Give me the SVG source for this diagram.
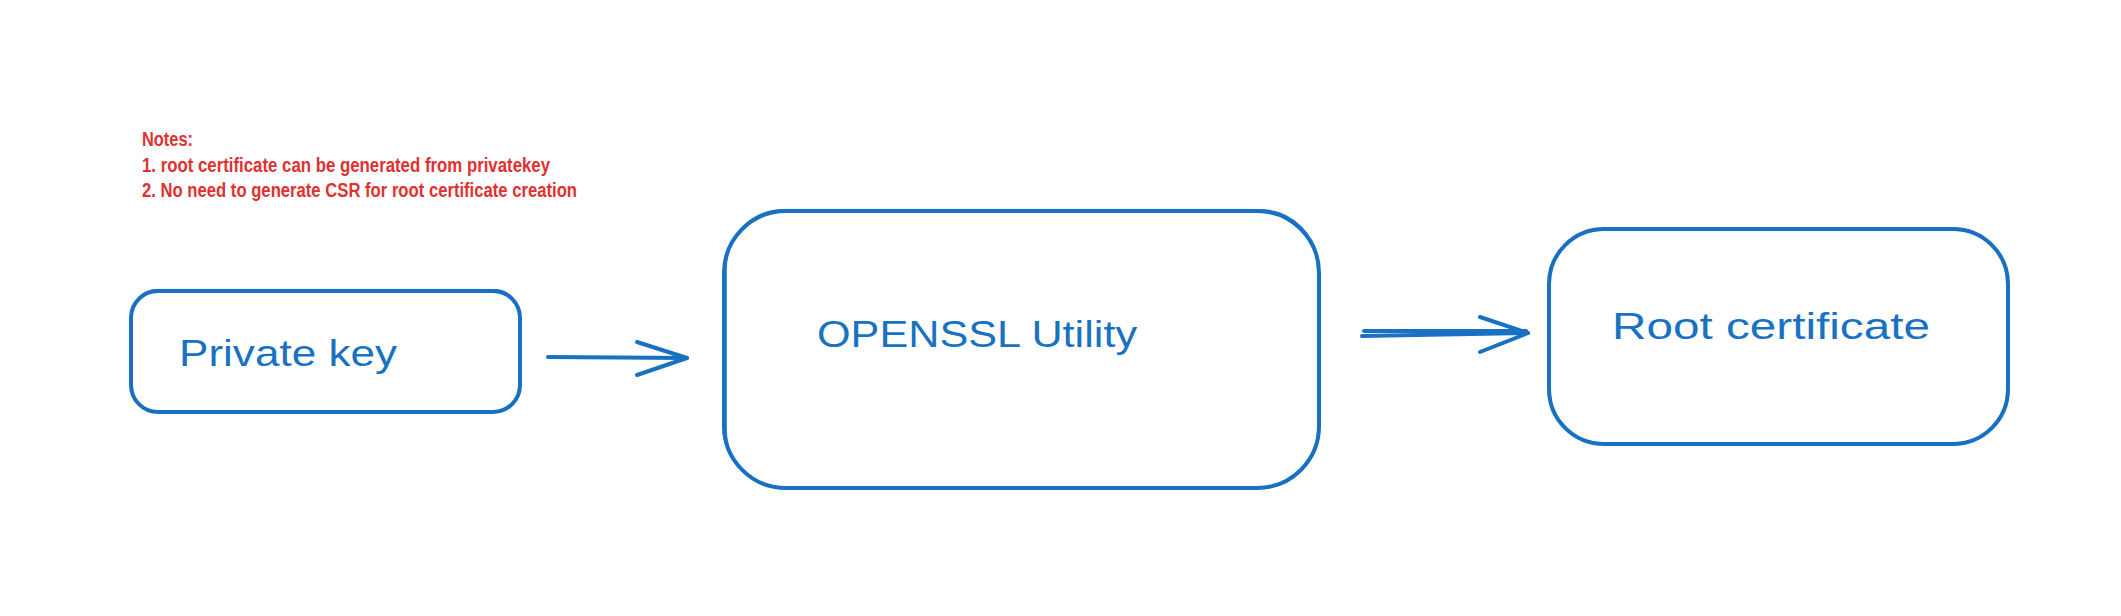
<svg xmlns="http://www.w3.org/2000/svg" width="2121" height="616" viewBox="0 0 2121 616">
  <style>
    .box { fill: none; stroke: #1971c2; stroke-width: 4; stroke-linejoin: round; }
    .box2 { fill: none; stroke: #1971c2; stroke-width: 2; opacity: 0.8; }
    .lbl { font-family: "Liberation Sans", "DejaVu Sans", sans-serif; font-size: 36px; fill: #1971c2; }
    .note { font-family: "Liberation Sans", "DejaVu Sans", sans-serif; font-size: 20px; font-weight: bold; fill: #e03131; }
    .conn { fill: none; stroke: #1971c2; stroke-width: 4; stroke-linecap: round; stroke-linejoin: round; }
  </style>
  <rect width="2121" height="616" fill="#ffffff"/>

  <g id="notes">
    <text class="note" x="142" y="146" textLength="51" lengthAdjust="spacingAndGlyphs">Notes:</text>
    <text class="note" x="142" y="172" textLength="408" lengthAdjust="spacingAndGlyphs">1. root certificate can be generated from privatekey</text>
    <text class="note" x="142" y="197" textLength="435" lengthAdjust="spacingAndGlyphs">2. No need to generate CSR for root certificate creation</text>
  </g>

  <g id="private-key">
    <rect class="box" x="131" y="291" width="389" height="121" rx="27" ry="27"/>
    <rect class="box2" x="132" y="290" width="387" height="122" rx="25" ry="25"/>
    <text class="lbl" x="179" y="366" textLength="218" lengthAdjust="spacingAndGlyphs">Private key</text>
  </g>

  <g id="openssl-utility">
    <rect class="box" x="724" y="211" width="595" height="277" rx="62" ry="62"/>
    <rect class="box2" x="726" y="210" width="592" height="278" rx="58" ry="58"/>
    <text class="lbl" x="817" y="347" textLength="320" lengthAdjust="spacingAndGlyphs">OPENSSL Utility</text>
  </g>

  <g id="root-certificate">
    <rect class="box" x="1549" y="229" width="459" height="215" rx="55" ry="55"/>
    <rect class="box2" x="1550" y="230" width="457" height="213" rx="52" ry="52"/>
    <text class="lbl" x="1612" y="339" textLength="318" lengthAdjust="spacingAndGlyphs">Root certificate</text>
  </g>

  <g id="connectors">
    <path class="conn" d="M548 357 L687 358"/>
    <path class="conn" d="M637 342 L687 358 L637 375"/>
    <path class="conn" d="M1362 336 L1528 333"/>
    <path class="conn" d="M1364 331 L1526 331" stroke-width="3"/>
    <path class="conn" d="M1480 317 L1528 333 L1480 352"/>
  </g>
</svg>
